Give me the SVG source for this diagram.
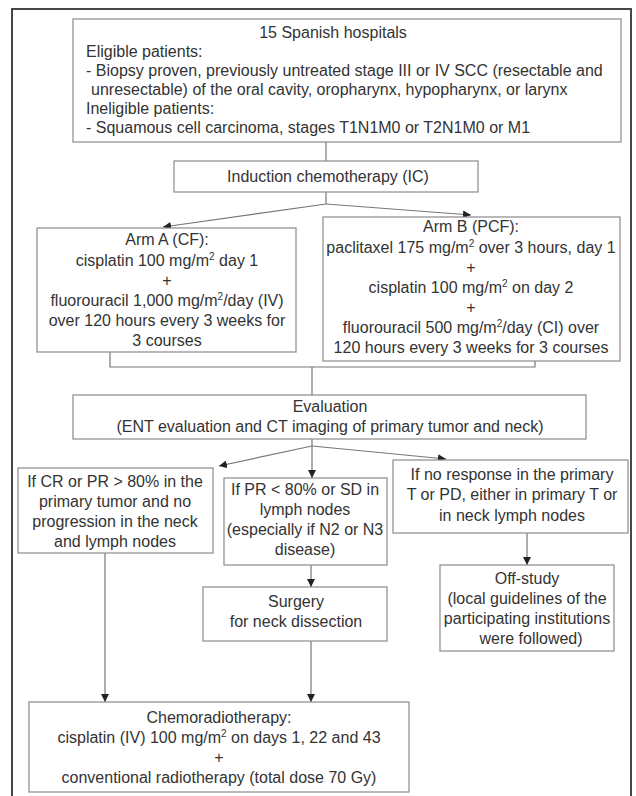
<svg xmlns="http://www.w3.org/2000/svg" width="636" height="796" viewBox="0 0 636 796">
<defs>
<style>
.box{fill:#fff;stroke:#8a8a8a;stroke-width:1.2}
.t{font-family:"Liberation Sans",Arial,sans-serif;font-size:16px;fill:#333}
.c{text-anchor:middle}
.ln{fill:none;stroke:#777;stroke-width:1.2}
.ar{marker-end:url(#ah)}
.sup{font-size:10px}
</style>
<marker id="ah" viewBox="0 0 8 8" refX="8" refY="4" markerWidth="8" markerHeight="8" markerUnits="userSpaceOnUse" orient="auto">
<path d="M0,0 L8,4 L0,8 z" fill="#222"/>
</marker>
</defs>
<rect width="636" height="796" fill="#fff"/>
<rect x="12" y="9" width="619" height="800" fill="none" stroke="#333" stroke-width="1.8"/>

<g id="connectors">
<line class="ln" x1="326" y1="142" x2="326" y2="161"/>
<line class="ln" x1="326" y1="192" x2="326" y2="204"/>
<line class="ln ar" x1="326" y1="204" x2="163" y2="227"/>
<line class="ln ar" x1="326" y1="204" x2="471" y2="215"/>
<polyline class="ln" points="110,352 110,367 535,367 535,361"/>
<line class="ln" x1="312" y1="367" x2="312" y2="395"/>
<line class="ln" x1="312" y1="439" x2="312" y2="446"/>
<line class="ln ar" x1="312" y1="446" x2="219" y2="466"/>
<line class="ln ar" x1="312" y1="446" x2="312" y2="478"/>
<line class="ln ar" x1="312" y1="446" x2="446" y2="459"/>
<line class="ln ar" x1="527" y1="533" x2="527" y2="565"/>
<line class="ln ar" x1="311" y1="565" x2="311" y2="587"/>
<line class="ln ar" x1="311" y1="641" x2="311" y2="702"/>
<line class="ln ar" x1="105" y1="553" x2="105" y2="702"/>
</g>

<g id="hospitals">
<rect class="box" x="73" y="19" width="548" height="123"/>
<text class="t c" x="333" y="38">15 Spanish hospitals</text>
<text class="t" x="86" y="57">Eligible patients:</text>
<text class="t" x="86" y="76">- Biopsy proven, previously untreated stage III or IV SCC (resectable and</text>
<text class="t" x="91" y="95">unresectable) of the oral cavity, oropharynx, hypopharynx, or larynx</text>
<text class="t" x="86" y="114">Ineligible patients:</text>
<text class="t" x="86" y="133">- Squamous cell carcinoma, stages T1N1M0 or T2N1M0 or M1</text>
</g>

<g id="ic">
<rect class="box" x="174" y="161" width="304" height="31"/>
<text class="t c" x="328" y="182">Induction chemotherapy (IC)</text>
</g>

<g id="armA">
<rect class="box" x="37" y="228" width="259" height="124"/>
<text class="t c" x="167" y="245">Arm A (CF):</text>
<text class="t c" x="167" y="266">cisplatin 100 mg/m<tspan class="sup" dy="-6">2</tspan><tspan dy="6"> day 1</tspan></text>
<text class="t c" x="167" y="286">+</text>
<text class="t c" x="167" y="306">fluorouracil 1,000 mg/m<tspan class="sup" dy="-6">2</tspan><tspan dy="6">/day (IV)</tspan></text>
<text class="t c" x="167" y="326">over 120 hours every 3 weeks for</text>
<text class="t c" x="167" y="346">3 courses</text>
</g>

<g id="armB">
<rect class="box" x="323" y="217" width="297" height="144"/>
<text class="t c" x="471" y="232">Arm B (PCF):</text>
<text class="t c" x="471" y="253">paclitaxel 175 mg/m<tspan class="sup" dy="-6">2</tspan><tspan dy="6"> over 3 hours, day 1</tspan></text>
<text class="t c" x="471" y="273">+</text>
<text class="t c" x="471" y="293">cisplatin 100 mg/m<tspan class="sup" dy="-6">2</tspan><tspan dy="6"> on day 2</tspan></text>
<text class="t c" x="471" y="313">+</text>
<text class="t c" x="471" y="333">fluorouracil 500 mg/m<tspan class="sup" dy="-6">2</tspan><tspan dy="6">/day (CI) over</tspan></text>
<text class="t c" x="471" y="353">120 hours every 3 weeks for 3 courses</text>
</g>

<g id="evaluation">
<rect class="box" x="73" y="395" width="513" height="44"/>
<text class="t c" x="330" y="412">Evaluation</text>
<text class="t c" x="330" y="432">(ENT evaluation and CT imaging of primary tumor and neck)</text>
</g>

<g id="cr">
<rect class="box" x="18" y="468" width="195" height="85"/>
<text class="t c" x="115" y="487">If CR or PR &gt; 80% in the</text>
<text class="t c" x="115" y="507">primary tumor and no</text>
<text class="t c" x="115" y="527">progression in the neck</text>
<text class="t c" x="115" y="547">and lymph nodes</text>
</g>

<g id="pr">
<rect class="box" x="224" y="478" width="163" height="87"/>
<text class="t c" x="305" y="495">If PR &lt; 80% or SD in</text>
<text class="t c" x="305" y="515">lymph nodes</text>
<text class="t c" x="305" y="535">(especially if N2 or N3</text>
<text class="t c" x="305" y="555">disease)</text>
</g>

<g id="noresponse">
<rect class="box" x="393" y="460" width="235" height="73"/>
<text class="t c" x="512" y="480">If no response in the primary</text>
<text class="t c" x="512" y="500">T or PD, either in primary T or</text>
<text class="t c" x="512" y="521">in neck lymph nodes</text>
</g>

<g id="offstudy">
<rect class="box" x="440" y="565" width="174" height="86"/>
<text class="t c" x="527" y="584">Off-study</text>
<text class="t c" x="527" y="604">(local guidelines of the</text>
<text class="t c" x="527" y="624">participating institutions</text>
<text class="t c" x="531" y="644">were followed)</text>
</g>

<g id="surgery">
<rect class="box" x="203" y="587" width="184" height="54"/>
<text class="t c" x="296" y="607">Surgery</text>
<text class="t c" x="296" y="627">for neck dissection</text>
</g>

<g id="chemoradiotherapy">
<rect class="box" x="29" y="702" width="380" height="90"/>
<text class="t c" x="219" y="723">Chemoradiotherapy:</text>
<text class="t c" x="219" y="743">cisplatin (IV) 100 mg/m<tspan class="sup" dy="-6">2</tspan><tspan dy="6"> on days 1, 22 and 43</tspan></text>
<text class="t c" x="219" y="763">+</text>
<text class="t c" x="219" y="783">conventional radiotherapy (total dose 70 Gy)</text>
</g>
</svg>
